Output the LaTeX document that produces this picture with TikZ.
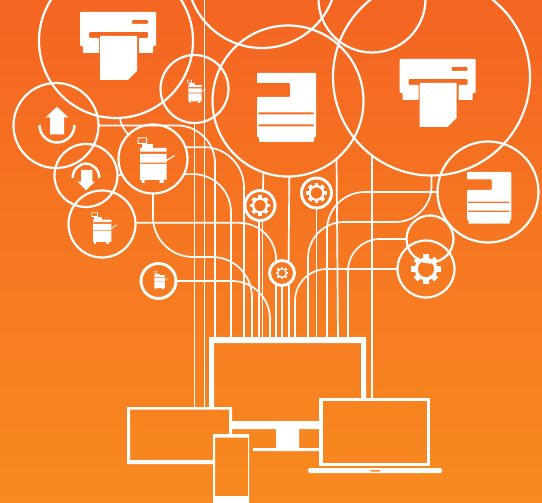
\documentclass[tikz,border=0pt]{standalone}
\usepackage{tikz}
\tikzstyle{ring}=[draw=white,circle,inner sep=0pt,outer sep=0pt,line width=2.2pt]
\tikzstyle{ring2}=[ring,line width=2.9pt]
\tikzstyle{wire}=[draw=white,line width=1.7pt]
\tikzstyle{panel}=[fill=white,even odd rule]
\tikzset{
  printer/.pic={
    \fill[panel,rounded corners=.8pt] (0,0) -- (76,0) -- (76,34) -- (73,34) -- (73,41) -- (59,41) -- (59,26)
      -- (68,26) -- (68,20) -- (9,20) -- (9,26) -- (19,26) -- (19,41) -- (3,41) -- (3,34) -- (0,34) -- cycle
      (52,8) -- (68,8) -- (68,12) -- (52,12) -- cycle;
    \fill[white] (20,24) -- (57,24) -- (57,59) -- (48,68) -- (20,68) -- cycle;
  },
  mfp/.pic={
    \fill[panel,rounded corners=.8pt] (0,0) -- (59,0) -- (59,64) -- (57,64) -- (57,69) -- (2,69) -- (2,64) -- (0,64)
      -- (0,24) -- (33,24) -- (33,10) -- (0,10) -- cycle
      (1,39.5) -- (57,39.5) -- (57,41.5) -- (1,41.5) -- cycle
      (1,51.5) -- (57,51.5) -- (57,53.5) -- (1,53.5) -- cycle;
  },
  copier/.pic={
    \fill[panel] (0,0) rectangle (9.5,6.5) (1,1) rectangle (8.5,5.5);
    \fill[white] (4,7) rectangle (15.5,10.5);
    \fill[panel] (2.5,10.5) rectangle (29,42.7) (2.5,14.4) rectangle (29,16.7) (2.5,25.4) rectangle (29,26.7);
    \fill[white] (4,42.7) rectangle (7,45.7) (22,42.7) rectangle (26,45.7);
    \fill[white] (29,22.5) -- (37,17.6) -- (37.5,18.6) -- (29,24) -- cycle;
  },
  gear/.pic={
    \foreach \a in {0,45,...,315}
      \fill[white,rotate=\a] (-2.8,-14.6) rectangle (2.8,-10);
    \fill[panel] (0,0) circle (11.4) (0,0) circle (8.2);
  }
}
\begin{document}
\begin{tikzpicture}[x=1pt,y=-1pt]
  \useasboundingbox (0,0) rectangle (542,503);
  \clip (0,0) rectangle (542,503);
  \shade[top color={rgb,255:red,244;green,101;blue,34},bottom color={rgb,255:red,248;green,138;blue,32}] (0,0) rectangle (542,503);

  \node[ring,minimum size=154pt] (printerA) at (116,41) {};
  \node[ring,minimum size=150pt] (topA) at (262,-27) {};
  \node[ring,minimum size=107pt] (topB) at (372,-1) {};
  \node[ring,minimum size=151pt] (main) at (288,101) {};
  \node[ring,minimum size=197pt] (printerB) at (431.5,77) {};
  \node[ring,minimum size=101pt] (mfpB) at (488,192) {};
  \node[ring,minimum size=57pt] (gearD) at (426,269) {};
  \node[ring,minimum size=47pt] (blank) at (430,239) {};
  \node[ring2,minimum size=30pt] (gearA) at (260,205.5) {};
  \node[ring2,minimum size=30pt] (gearB) at (316.5,193) {};
  \node[ring2,minimum size=25pt] (gearC) at (282,273) {};
  \node[ring2,minimum size=35pt] (mini) at (158.5,281) {};
  \node[ring,minimum size=69pt] (copierA) at (153,159) {};
  \node[ring,minimum size=67pt] (copierB) at (102,224) {};
  \node[ring,minimum size=68pt] (copierC) at (194.5,89) {};
  \node[ring,minimum size=85pt] (upl) at (56,125.5) {};
  \node[ring,minimum size=63pt] (dnl) at (86,175.5) {};

  \coordinate (monitor) at (0,337);
  \coordinate (tablet) at (0,407);
  \coordinate (sky) at (204.5,0);
  \foreach \x in {215,231,244,252,270,295,308,327,338,348}
    \coordinate (m\x) at (\x,337);
  \node[draw=white,line width=3.5pt,inner sep=0pt,minimum width=107.5pt,minimum height=64.8pt] (laptop) at (374.75,432) {};

  \draw[wire,rounded corners=38pt] (upl.0) -| (m215);
  \draw[wire,rounded corners=40pt] (copierA.20) -| (m244);
  \draw[wire,rounded corners=38pt] (copierA.-26) -| (m231);
  \draw[wire,rounded corners=37pt] (copierB.2) -| (gearC.118);
  \draw[wire,rounded corners=40pt] (copierA.south) |- (252,257) -- (m252);
  \draw[wire,rounded corners=38pt] (mini.0) -| (m270);
  \draw[wire,rounded corners=38pt] (mfpB.180) -| (m327);
  \draw[wire,rounded corners=36pt] (printerB.south) |- (308,222) -- (m308);
  \draw[wire,rounded corners=32pt] (blank.180) -| (m348);
  \draw[wire,rounded corners=32pt] (gearD.180) -| (m295);
  \draw[wire] (printerA.-87) .. controls +(1,8) and +(-4,-4) .. (copierA.135);
  \draw[wire] (dnl.0) -- (copierA.-153);

  \draw[wire] (copierC.south) -- (copierC.south |- tablet);
  \draw[wire] (sky) -- (sky |- tablet);
  \draw[wire] (main.-109) -- (gearA.79);
  \draw[wire] (main.-89) -- (gearC.58);
  \draw[wire] (main.-50) -- (m338);
  \draw[wire] (printerB.-127) -- (printerB.-127 |- laptop.north);
  \foreach \a in {gearA.-94,gearA.-80,gearB.south,gearC.-117,gearC.south,gearC.-57}
    \draw[wire] (\a) -- (\a |- monitor);

  \pic at (80,12) {printer};
  \pic at (399.5,59) {printer};
  \pic at (257,73) {mfp};
  \pic[scale=.75] at (467,172) {mfp};
  \pic at (137.5,137.3) {copier};
  \pic[scale=.69] at (91.3,212.3) {copier};
  \pic[scale=.5] at (187,80) {copier};
  \pic[scale=.4] at (153.3,271) {copier};
  \pic at (426,269) {gear};
  \pic[scale=.7] at (260,205.5) {gear};
  \pic[scale=.7] at (316.5,193) {gear};
  \pic[scale=.44] at (282,273) {gear};

  \fill[white] (57,106.7) -- (68.3,117.3) -- (64,117.3) -- (64,134.3) -- (50,134.3) -- (50,117.3) -- (45.7,117.3) -- cycle;
  \draw[white,line width=2.5pt] (39.5,125) .. controls (39.5,134.7) and (47.3,142.5) .. (57,142.5) .. controls (66.7,142.5) and (74.5,134.7) .. (74.5,125);
  \fill[white] (86,190.3) -- (77.7,181.7) -- (81,181.7) -- (81,170) -- (92.3,170) -- (92.3,181.7) -- (95,181.7) -- cycle;
  \draw[white,line width=2.5pt] (72.7,178) .. controls (72.7,170) and (78.7,163.7) .. (86,163.7) .. controls (93.3,163.7) and (99.3,170) .. (99.3,178);

  \fill[white] (209,337) -- (366,337) -- (366,398) -- (361,398) -- (361,343) -- (214,343) -- (214,407) -- (209,407) -- cycle;
  \fill[white] (232,421) rectangle (319,429) (276,429) rectangle (299,449) (253,448) rectangle (320,451);
  \fill[white] (127,407) -- (232,407) -- (232,434) -- (229,434) -- (229,409.5) -- (130,409.5) -- (130,460) -- (213,460) -- (213,464) -- (127,464) -- cycle;
  \fill[panel] (213,434) rectangle (249,503) (215,437.5) rectangle (248,496);
  \fill[panel,rounded corners=1.5pt] (308,468) -- (442,468) -- (442,473) -- (308,473) -- cycle
    (369,470) -- (381,470) -- (381,471.5) -- (369,471.5) -- cycle;
\end{tikzpicture}
\end{document}
